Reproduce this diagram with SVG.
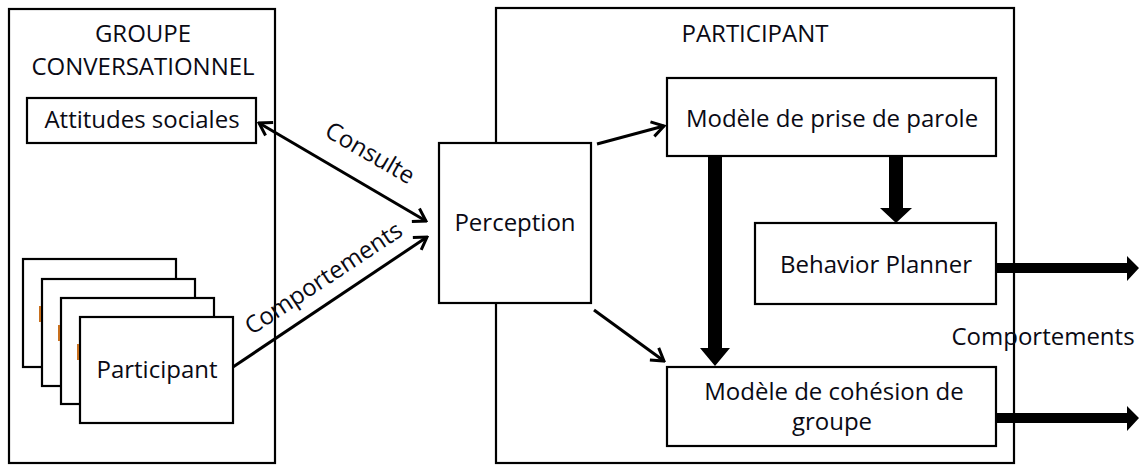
<svg xmlns="http://www.w3.org/2000/svg" width="1139" height="465" viewBox="0 0 1139 465">
  <defs>
    <style>
      .box { fill: #ffffff; stroke: #000000; stroke-width: 2.2; }
      .frame { fill: none; stroke: #000000; stroke-width: 2.2; }
      .lbl { font-family: "Open Sans", "Liberation Sans", sans-serif; font-size: 24px; fill: #0a0a14; text-anchor: middle; }
      .thin { fill: none; stroke: #000000; stroke-width: 3; }
      .thick { fill: #000000; stroke: none; }
      .mark { fill: #c8701e; }
    </style>
    <marker id="chev" viewBox="-14 -9 16 18" markerWidth="16" markerHeight="18" refX="0" refY="0" orient="auto-start-reverse" markerUnits="userSpaceOnUse">
      <path d="M-12,-7.5 L0,0 L-12,7.5" fill="none" stroke="#000000" stroke-width="3" stroke-linejoin="miter"/>
    </marker>
  </defs>

  <rect width="1139" height="465" fill="#ffffff"/>

  <g id="groupe-conversationnel">
    <rect class="frame" x="9" y="9" width="266" height="454"/>
    <text class="lbl" x="143" y="42">GROUPE</text>
    <text class="lbl" x="143" y="75">CONVERSATIONNEL</text>
  </g>

  <g id="participant-frame">
    <rect class="frame" x="496" y="8" width="518" height="455"/>
    <text class="lbl" x="755" y="42">PARTICIPANT</text>
  </g>

  <g id="attitudes-sociales">
    <rect class="box" x="27" y="98" width="229" height="45"/>
    <text class="lbl" x="142" y="128">Attitudes sociales</text>
  </g>

  <g id="participants-stack">
    <rect class="box" x="23" y="259" width="153" height="108"/>
    <rect class="box" x="42" y="279" width="153" height="107"/>
    <rect class="mark" x="39" y="306" width="2" height="16"/>
    <rect class="box" x="61" y="298" width="153" height="106"/>
    <rect class="mark" x="58" y="325" width="2" height="16"/>
    <rect class="box" x="80" y="317" width="153" height="106"/>
    <rect class="mark" x="77" y="344" width="2" height="16"/>
    <text class="lbl" x="157" y="378">Participant</text>
  </g>

  <g id="perception">
    <rect class="box" x="439" y="143" width="152" height="160"/>
    <text class="lbl" x="515" y="231">Perception</text>
  </g>

  <g id="modele-prise-de-parole">
    <rect class="box" x="667" y="78" width="329" height="78"/>
    <text class="lbl" x="832" y="127">Modèle de prise de parole</text>
  </g>

  <g id="behavior-planner">
    <rect class="box" x="755" y="223" width="241" height="81"/>
    <text class="lbl" x="876" y="273">Behavior Planner</text>
  </g>

  <g id="modele-cohesion">
    <rect class="box" x="667" y="367" width="329" height="79"/>
    <text class="lbl" x="834" y="400">Modèle de cohésion de</text>
    <text class="lbl" x="832" y="430">groupe</text>
  </g>

  <g id="connectors">
    <line class="thin" x1="259" y1="123" x2="426" y2="221" marker-start="url(#chev)" marker-end="url(#chev)"/>
    <line class="thin" x1="233" y1="367" x2="427" y2="237" marker-end="url(#chev)"/>
    <line class="thin" x1="597" y1="144" x2="664" y2="126" marker-end="url(#chev)"/>
    <line class="thin" x1="594" y1="310" x2="664" y2="361" marker-end="url(#chev)"/>

    <polygon class="thick" points="708,156 722,156 722,348 730,348 715,366 700,348 708,348"/>
    <polygon class="thick" points="889,156 903,156 903,208 912,208 896,223 880,208 889,208"/>
    <polygon class="thick" points="996,263 1127,263 1127,256 1139,268 1127,281 1127,273 996,273"/>
    <polygon class="thick" points="996,413 1127,413 1127,406 1139,418 1127,431 1127,423 996,423"/>

    <text class="lbl" x="366" y="160" transform="rotate(30 366 160)">Consulte</text>
    <text class="lbl" x="328" y="285" transform="rotate(-33.5 328 285)">Comportements</text>
    <text class="lbl" x="1043" y="345">Comportements</text>
  </g>
</svg>
